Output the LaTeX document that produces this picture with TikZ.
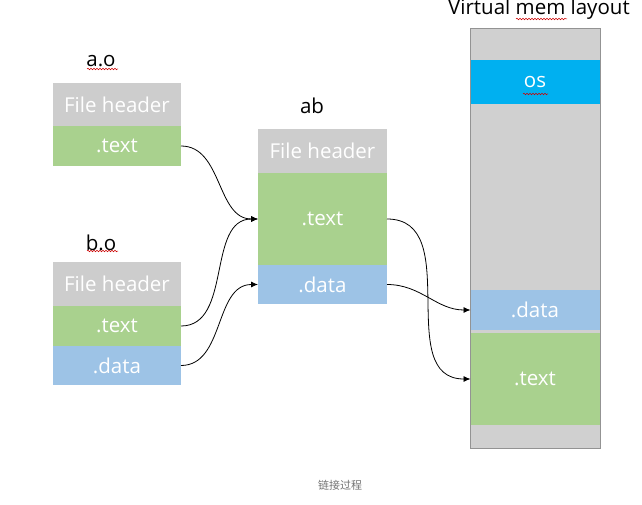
\documentclass[tikz,border=0pt]{standalone}
\usepackage{fontspec}
\setmainfont{Open Sans}
\newfontfamily\cjk{Noto Sans CJK SC}
\usetikzlibrary{arrows.meta,decorations.pathmorphing}
\definecolor{hdr}{HTML}{CDCDCD}
\definecolor{grn}{HTML}{A9D18E}
\definecolor{blu}{HTML}{9DC3E6}
\definecolor{osc}{HTML}{00B0F0}
\definecolor{vmb}{HTML}{D0D0D0}
\tikzset{
  seg/.style={inner sep=0pt, outer sep=0pt, anchor=north west, text=white,
    font=\fontsize{20.5}{24}\selectfont, minimum width=128pt},
  lbl/.style={inner sep=0pt, font=\fontsize{20.5}{24}\selectfont, text=black},
  link/.style={draw=black, line width=0.8pt, -{Latex[length=7pt,width=6pt]}},
  squig/.style={draw=red!80!black, line width=0.5pt, decorate,
    decoration={snake, amplitude=0.8pt, segment length=3pt}}
}
\begin{document}
\begin{tikzpicture}[x=1pt,y=-1pt]
\useasboundingbox (0,0) rectangle (642,505);
% a.o
\node[lbl] (alab) at (101,61) {a.o};
\node[seg, fill=hdr, minimum height=43pt] (aoh) at (53,83) {File header};
\node[seg, fill=grn, minimum height=40pt] (aot) at (53,126) {.text};
% b.o
\node[lbl] (blab) at (101,243) {b.o};
\node[seg, fill=hdr, minimum height=44pt] (boh) at (53,262) {File header};
\node[seg, fill=grn, minimum height=40pt] (bot) at (53,306) {.text};
\node[seg, fill=blu, minimum height=39pt] (bod) at (53,346) {.data};
% ab
\node[lbl] (ablab) at (312,106) {ab};
\node[seg, fill=hdr, minimum width=129pt, minimum height=44pt] (abh) at (258,129) {File header};
\node[seg, fill=grn, minimum width=129pt, minimum height=92pt] (abt) at (258,173) {.text};
\node[seg, fill=blu, minimum width=129pt, minimum height=39pt] (abd) at (258,265) {.data};
% virtual memory
\node[lbl] (vmlab) at (539,9) {Virtual mem layout};
\node[inner sep=0pt, outer sep=0pt, anchor=north west, fill=vmb, draw=gray!85,
  line width=0.8pt, minimum width=130pt, minimum height=420pt] (vm) at (470,28) {};
\node[seg, fill=osc, minimum width=129pt, minimum height=44pt] (vmos) at (470.5,60) {os};
\node[seg, fill=blu, minimum width=129pt, minimum height=40pt] (vmd) at (470.5,290) {.data};
\node[seg, fill=grn, minimum width=129pt, minimum height=92pt] (vmt) at (470.5,333) {.text};
% spell-check underlines
\draw[squig] (87,69) -- (118,69);
\draw[squig] (87,251) -- (118,251);
\draw[squig] (516,19) -- (567,19);
\draw[squig] (523,94) -- (548,94);
% connectors
\draw[link] (aot.east) to[out=0,in=180] (abt.west);
\draw[link] (bot.east) to[out=0,in=180] (abt.west);
\draw[link] (bod.east) to[out=0,in=180] (abd.west);
\draw[link] (abt.east) to[out=0,in=180,looseness=1.1] (vmt.west);
\draw[link] (abd.east) to[out=0,in=180] (vmd.west);
% caption
\node[inner sep=0pt, text=gray!90!black, font=\cjk\fontsize{11}{13}\selectfont] (cap) at (340,485) {链接过程};
\end{tikzpicture}
\end{document}
